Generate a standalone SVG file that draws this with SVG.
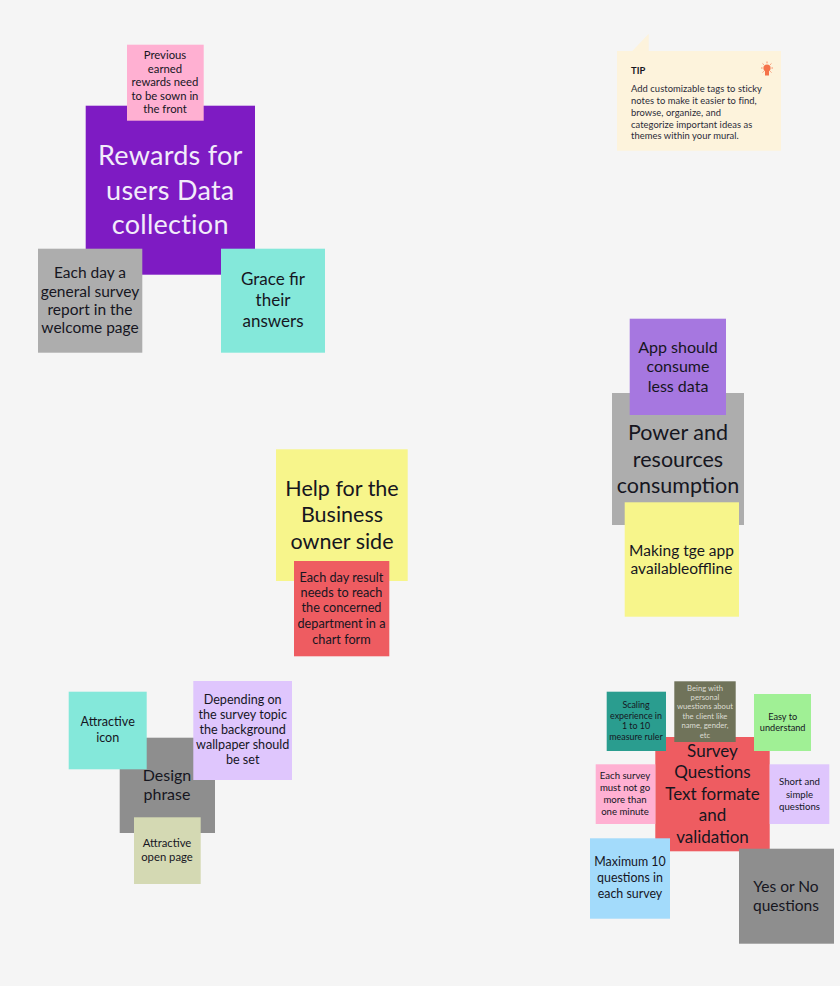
<svg xmlns="http://www.w3.org/2000/svg" width="840" height="986" viewBox="0 0 840 986">
<style>
text{font-family:"Lato","Liberation Sans",sans-serif;fill:#16161f;text-anchor:middle}
.s7{font-size:7.7px;fill:#dcdcd2}.s88{font-size:8.9px}.s9{font-size:9.6px}.s92{font-size:9.2px}.s11{font-size:11.3px}.s12{font-size:12.6px}.s124{font-size:12.4px}.s126{font-size:12.7px}.s155{font-size:15.5px}.s16{font-size:16px}.s17{font-size:17px}.s22{font-size:21.5px}.s28{font-size:27px;letter-spacing:.25px;fill:#f2ecfa}
.tip{font-size:9.4px;text-anchor:start;fill:#2b2b38;letter-spacing:.05px}
</style>
<rect width="840" height="986" fill="#f5f5f5"/>
<g id="tip-note">
<path d="M617 51H632.3L648.7 33.7V51H781V150.7H617Z" fill="#fdf3dc"/>
<text x="631" y="74" class="tip" font-weight="700" style="fill:#16161f">TIP</text>
<text x="631" y="92.3" class="tip">Add customizable tags to sticky</text>
<text x="631" y="104.3" class="tip">notes to make it easier to find,</text>
<text x="631" y="116" class="tip">browse, organize, and</text>
<text x="631" y="127.7" class="tip">categorize important ideas as</text>
<text x="631" y="139.3" class="tip">themes within your mural.</text>
<g fill="#f5724a" stroke="none">
<circle cx="767" cy="68" r="3.6"/><rect x="765" y="71" width="4" height="4.5"/>
<path d="M767 61.5v1.8M761 68h1.6M771.4 68h1.6M762.6 63.5l1.2 1.2M771.4 63.5l-1.2 1.2M762.6 72.5l1.2-1.2M771.4 72.5l-1.2-1.2" stroke="#f5724a" stroke-width="0.8"/>
</g>
</g>
<g id="rewards-main"><rect x="85.7" y="105.7" width="169.3" height="169" fill="#7e1bc3"/>
<text class="s28" x="170.3" y="165.2">Rewards for</text><text class="s28" x="170.3" y="199.5">users Data</text><text class="s28" x="170.3" y="233.5">collection</text></g>
<g id="rewards-previous"><rect x="127" y="44.7" width="76.7" height="76" fill="#ffb0d2"/>
<text class="s11" x="165" y="59.3">Previous</text><text class="s11" x="165" y="72.7">earned</text><text class="s11" x="165" y="86.3">rewards need</text><text class="s11" x="165" y="100">to be sown in</text><text class="s11" x="165" y="113.3">the front</text></g>
<g id="rewards-daily"><rect x="38" y="248.7" width="104.3" height="104" fill="#adadad"/>
<text class="s155" x="90" y="278.3">Each day a</text><text class="s155" x="90" y="296.7">general survey</text><text class="s155" x="90" y="315">report in the</text><text class="s155" x="90" y="333.3">welcome page</text></g>
<g id="rewards-grace"><rect x="221" y="248.7" width="104" height="104" fill="#84e8da"/>
<text class="s17" x="273" y="285.3">Grace fir</text><text class="s17" x="273" y="306.3">their</text><text class="s17" x="273" y="327">answers</text></g>

<g id="power-main"><rect x="612" y="393" width="132" height="132" fill="#adadad"/>
<text class="s22" x="678" y="440">Power and</text><text class="s22" x="678" y="466.7">resources</text><text class="s22" x="678" y="493.4">consumption</text></g>
<g id="power-data"><rect x="629.7" y="318.7" width="96.3" height="96.3" fill="#a677e0"/>
<text class="s16" x="678" y="353">App should</text><text class="s16" x="678" y="372.3">consume</text><text class="s16" x="678" y="392">less data</text></g>
<g id="power-offline"><rect x="624.7" y="502.3" width="114.3" height="114.4" fill="#f7f58b"/>
<text class="s155" x="681.5" y="555.7">Making tge app</text><text class="s155" x="681.5" y="574.3">availableoffline</text></g>

<g id="business-main"><rect x="276" y="449.3" width="131.7" height="131.7" fill="#f7f58b"/>
<text class="s22" x="342" y="495.7">Help for the</text><text class="s22" x="342" y="522.4">Business</text><text class="s22" x="342" y="549">owner side</text></g>
<g id="business-result"><rect x="294" y="561" width="95.3" height="95.3" fill="#ee5c61"/>
<text class="s126" x="341.5" y="581.7">Each day result</text><text class="s126" x="341.5" y="597">needs to reach</text><text class="s126" x="341.5" y="612.3">the concerned</text><text class="s126" x="341.5" y="628.3">department in a</text><text class="s126" x="341.5" y="643.7">chart form</text></g>

<g id="design-main"><rect x="119.7" y="737.7" width="95.3" height="95.3" fill="#8e8e8e"/>
<text class="s16" x="167" y="781">Design</text><text class="s16" x="167" y="800">phrase</text></g>
<g id="design-icon"><rect x="68.7" y="691.7" width="78" height="77.6" fill="#84e8da"/>
<text class="s12" x="107.7" y="726">Attractive</text><text class="s12" x="107.7" y="742">icon</text></g>
<g id="design-wallpaper"><rect x="193.3" y="681" width="98.7" height="99" fill="#dfc6fd"/>
<text class="s12" x="242.7" y="704.3">Depending on</text><text class="s12" x="242.7" y="719.3">the survey topic</text><text class="s12" x="242.7" y="734.3">the background</text><text class="s12" x="242.7" y="749.3">wallpaper should</text><text class="s12" x="242.7" y="764.3">be set</text></g>
<g id="design-open"><rect x="134" y="817.3" width="66.7" height="66.7" fill="#d4d9b3"/>
<text class="s11" x="167" y="847.3">Attractive</text><text class="s11" x="167" y="861.3">open page</text></g>

<g id="survey-main"><rect x="655.3" y="737" width="114.4" height="114.3" fill="#ee5c61"/>
<text class="s17" x="712.5" y="756.7">Survey</text><text class="s17" x="712.5" y="777.7">Questions</text><text class="s17" x="712.5" y="799.7">Text formate</text><text class="s17" x="712.5" y="821.3">and</text><text class="s17" x="712.5" y="843">validation</text></g>
<g id="survey-scaling"><rect x="606.7" y="691.7" width="59.3" height="59.3" fill="#2a9d8f"/>
<text class="s88" x="636" y="708.3">Scaling</text><text class="s88" x="636" y="718.7">experience in</text><text class="s88" x="636" y="729">1 to 10</text><text class="s88" x="636" y="739.7">measure ruler</text></g>
<g id="survey-personal"><rect x="674.3" y="681.3" width="61.4" height="60.7" fill="#70735a"/>
<text class="s7" x="705" y="690.7">Being with</text><text class="s7" x="705" y="700.3">personal</text><text class="s7" x="705" y="709.3">wuestions about</text><text class="s7" x="705" y="718.7">the client like</text><text class="s7" x="705" y="728">name, gender,</text><text class="s7" x="705" y="737.7">etc</text></g>
<g id="survey-easy"><rect x="754" y="694" width="57" height="57" fill="#a0f095"/>
<text class="s92" x="782.7" y="720">Easy to</text><text class="s92" x="782.7" y="731">understand</text></g>
<g id="survey-minute"><rect x="595.7" y="764.3" width="59.6" height="59.7" fill="#ffb0d2"/>
<text class="s9" x="625" y="779.3">Each survey</text><text class="s9" x="625" y="791.3">must not go</text><text class="s9" x="625" y="803.3">more than</text><text class="s9" x="625" y="815.3">one minute</text></g>
<g id="survey-short"><rect x="769.7" y="764.3" width="59.6" height="59.7" fill="#dfc6fd"/>
<text class="s9" x="799.5" y="785.3">Short and</text><text class="s9" x="799.5" y="797.7">simple</text><text class="s9" x="799.5" y="809.7">questions</text></g>
<g id="survey-max"><rect x="590" y="838.3" width="80" height="80.4" fill="#a3dbfb"/>
<text class="s124" x="630" y="866.3">Maximum 10</text><text class="s124" x="630" y="882.3">questions in</text><text class="s124" x="630" y="898.3">each survey</text></g>
<g id="survey-yesno"><rect x="739" y="848.7" width="95" height="95" fill="#8e8e8e"/>
<text class="s155" x="786" y="891.7">Yes or No</text><text class="s155" x="786" y="911">questions</text></g>
</svg>
